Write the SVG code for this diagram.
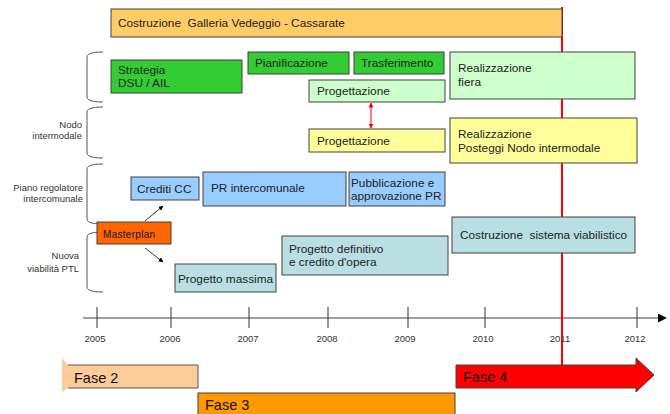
<svg xmlns="http://www.w3.org/2000/svg" width="670" height="414" viewBox="0 0 670 414">
<defs>
<style>
text{font-family:"Liberation Sans",Arial,sans-serif;fill:#222;}
.b{stroke:#404040;stroke-width:1;}
.t{font-size:11.8px;white-space:pre;}
.s{font-size:9.5px;fill:#333;text-anchor:end;}
.y{font-size:9.5px;fill:#333;text-anchor:middle;}
.f{font-size:14.5px;fill:#111;}
.br{fill:none;stroke:#555;stroke-width:1;}
.tick{stroke:#333;stroke-width:1;}
</style>
<marker id="ah" viewBox="0 0 10 10" refX="9" refY="5" markerWidth="6" markerHeight="6" orient="auto-start-reverse"><path d="M0,0L10,5L0,10z" fill="#000"/></marker>
<marker id="rh" viewBox="0 0 10 10" refX="9" refY="5" markerWidth="5" markerHeight="5" orient="auto-start-reverse"><path d="M0,0L10,5L0,10z" fill="#f00"/></marker>
</defs>
<rect width="670" height="414" fill="#fff"/>

<g id="axis">
<line x1="83" y1="318" x2="666" y2="318" stroke="#808080" stroke-width="1.5" marker-end="url(#ah)"/>
<line class="tick" x1="97" y1="307" x2="97" y2="328"/>
<line class="tick" x1="171" y1="307" x2="171" y2="328"/>
<line class="tick" x1="249" y1="307" x2="249" y2="328"/>
<line class="tick" x1="328" y1="307" x2="328" y2="328"/>
<line class="tick" x1="408" y1="307" x2="408" y2="328"/>
<line class="tick" x1="485" y1="307" x2="485" y2="328"/>
<line class="tick" x1="562" y1="307" x2="562" y2="328"/>
<line class="tick" x1="637" y1="307" x2="637" y2="328"/>
<text class="y" x="95" y="342">2005</text>
<text class="y" x="170" y="342">2006</text>
<text class="y" x="248" y="342">2007</text>
<text class="y" x="327" y="342">2008</text>
<text class="y" x="405" y="342">2009</text>
<text class="y" x="483" y="342">2010</text>
<text class="y" x="560" y="342">2011</text>
<text class="y" x="635" y="342">2012</text>
</g>

<g id="deadline">
<line x1="562" y1="7" x2="562" y2="366" stroke="#f00" stroke-width="2"/>
</g>

<g id="brackets">
<path class="br" d="M103,52 C95,52 87,53 87,57 L87,97 C87,101 95,102 103,102"/>
<path class="br" d="M103,107 C95,107 87,108 87,112 L87,153 C87,157 95,158 103,158"/>
<path class="br" d="M103,164 C95,164 87,165 87,169 L87,219 C87,223 95,224 103,224"/>
<path class="br" d="M103,232 C95,232 87,233 87,237 L87,287 C87,291 95,292 103,292"/>
<text class="s" x="82" y="128">Nodo</text>
<text class="s" x="82" y="139">intermodale</text>
<text class="s" x="83" y="191">Piano regolatore</text>
<text class="s" x="83" y="202">intercomunale</text>
<text class="s" x="79" y="259">Nuova</text>
<text class="s" x="79" y="272">viabilità PTL</text>
</g>

<g id="galleria"><rect class="b" x="111" y="9" width="451" height="28" fill="#FFCC66"/><text class="t" x="118" y="27">Costruzione  Galleria Vedeggio - Cassarate</text></g>
<g id="strategia"><rect class="b" x="111" y="60" width="131" height="33" fill="#33CC33"/><text class="t" x="118" y="74">Strategia</text><text class="t" x="118" y="87">DSU / AIL</text></g>
<g id="pianificazione"><rect class="b" x="248" y="52" width="101" height="22" fill="#33CC33"/><text class="t" x="255" y="67">Pianificazione</text></g>
<g id="trasferimento"><rect class="b" x="354" y="52" width="90" height="22" fill="#33CC33"/><text class="t" x="361" y="67">Trasferimento</text></g>
<g id="progettazione1"><rect class="b" x="309" y="80" width="136" height="22" fill="#CCFFCC"/><text class="t" x="317" y="95">Progettazione</text></g>
<g id="progettazione2"><rect class="b" x="309" y="129" width="136" height="23" fill="#FFFF99"/><text class="t" x="317" y="145">Progettazione</text></g>
<g id="fiera"><rect class="b" x="450" y="52" width="185" height="47" fill="#CCFFCC"/><text class="t" x="458" y="72">Realizzazione</text><text class="t" x="458" y="86">fiera</text></g>
<g id="posteggi"><rect class="b" x="450" y="118" width="187" height="45" fill="#FFFF99"/><text class="t" x="458" y="138">Realizzazione</text><text class="t" x="458" y="152">Posteggi Nodo intermodale</text></g>
<g id="crediti"><rect class="b" x="131" y="177" width="68" height="23" fill="#99CCFF"/><text class="t" x="137" y="193">Crediti CC</text></g>
<g id="pr"><rect class="b" x="203" y="172" width="143" height="34" fill="#99CCFF"/><text class="t" x="211" y="192">PR intercomunale</text></g>
<g id="pubblicazione"><rect class="b" x="349" y="172" width="96" height="34" fill="#99CCFF"/><text class="t" x="351" y="187">Pubblicazione e</text><text class="t" x="351" y="200">approvazione PR</text></g>
<g id="masterplan"><rect class="b" x="97" y="222" width="74" height="22" fill="#FF6600"/><text x="103" y="238" style="font-size:10px;letter-spacing:0.3px;fill:#111">Masterplan</text></g>
<g id="massima"><rect class="b" x="175" y="264" width="101" height="28" fill="#BADFE2"/><text class="t" x="178" y="283">Progetto massima</text></g>
<g id="definitivo"><rect class="b" x="282" y="236" width="166" height="39" fill="#BADFE2"/><text class="t" x="289" y="253">Progetto definitivo</text><text class="t" x="289" y="266">e credito d'opera</text></g>
<g id="viabilistico"><rect class="b" x="452" y="217" width="183" height="36" fill="#BADFE2"/><text class="t" x="460" y="239">Costruzione  sistema viabilistico</text></g>

<g id="connectors">
<line x1="145" y1="221" x2="163" y2="206" stroke="#000" stroke-width="0.8" marker-end="url(#ah)"/>
<line x1="145" y1="248" x2="163" y2="262" stroke="#000" stroke-width="0.8" marker-end="url(#ah)"/>
<line x1="371" y1="103" x2="371" y2="128" stroke="#f00" stroke-width="1" marker-start="url(#rh)" marker-end="url(#rh)"/>
</g>

<g id="fase2"><polygon points="62,358 68,365 198,365 198,388 68,388 62,392" fill="#FFCC99"/><path d="M68,365H198V388H68" fill="none" stroke="#555" stroke-width="1"/><text class="f" x="74" y="383">Fase 2</text></g>
<g id="fase3"><rect class="b" x="198" y="393" width="257" height="24" fill="#FF9900"/><text class="f" x="205" y="410">Fase 3</text></g>
<g id="fase4"><polygon class="b" points="456,365 636,365 636,358 654,375 636,392 636,388 456,388" fill="#FF0000"/><text class="f" x="463" y="382">Fase 4</text></g>
</svg>
